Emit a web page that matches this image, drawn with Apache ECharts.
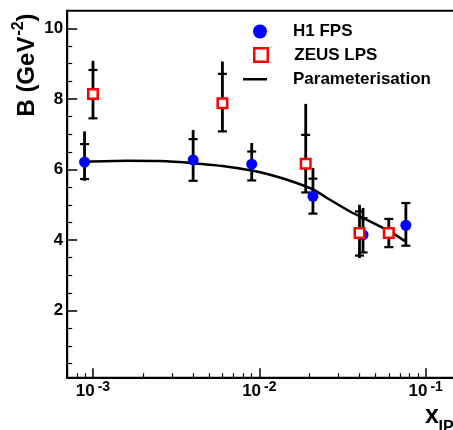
<!DOCTYPE html>
<html>
<head>
<meta charset="utf-8">
<script src="https://cdn.jsdelivr.net/npm/echarts@6/dist/echarts.min.js"></script>
<style>
  html, body { margin: 0; padding: 0; background: #fff; }
  #chart { width: 453px; height: 430px; }
</style>
</head>
<body>
<div id="chart"></div>
<script>
// ---- data ----
const h1X      = [0.00089, 0.0040, 0.0090, 0.021, 0.042, 0.076];
const h1B      = [6.21, 6.27, 6.15, 5.24, 4.15, 4.42];
const h1StatLo = [5.73, 5.68, 5.69, 4.75, 3.65, 3.84];
const h1StatHi = [6.72, 6.86, 6.51, 5.74, 4.62, 5.05];
const h1TotLo  = [5.68, 5.68, 5.69, 4.75, 3.63, 3.84];
const h1TotHi  = [7.08, 7.12, 6.75, 6.04, 4.91, 5.05];

const zeusX      = [0.0010, 0.0060, 0.019, 0.040, 0.060];
const zeusB      = [8.14, 7.88, 6.16, 4.20, 4.20];
const zeusStatLo = [7.45, 7.08, 5.35, 3.56, 3.80];
const zeusStatHi = [8.82, 8.71, 6.98, 4.81, 4.60];
const zeusTotLo  = [7.45, 7.08, 5.35, 3.49, 3.80];
const zeusTotHi  = [9.08, 9.06, 7.86, 5.00, 4.60];

const paramX = [0.00089, 0.0016, 0.0025, 0.004, 0.006, 0.009, 0.0116, 0.0153, 0.0211, 0.0254, 0.0351, 0.0463, 0.0611, 0.075];
const paramB = [6.22, 6.25, 6.24, 6.18, 6.10, 5.97, 5.85, 5.68, 5.43, 5.20, 4.81, 4.53, 4.24, 3.97];

const xMajorTicks = [0.001, 0.01, 0.1];
const xMinorTicks = [0.0008, 0.0009, 0.002, 0.003, 0.004, 0.005, 0.006, 0.007, 0.008, 0.009,
                     0.02, 0.03, 0.04, 0.05, 0.06, 0.07, 0.08, 0.09];
const yMajorTicks = [2, 4, 6, 8, 10];
const yMinorTicks = [0.5, 1, 1.5, 2.5, 3, 3.5, 4.5, 5, 5.5, 6.5, 7, 7.5, 8.5, 9, 9.5];

const xMin = 0.0007, xMax = 0.15, yMin = 0.1, yMax = 10.5;

// ---- build ----
const FONT = 'Liberation Sans, Arial, Helvetica, sans-serif';
function rows(x, b, sl, sh, tl, th) {
  return x.map((v, i) => [v, b[i], sl[i], sh[i], tl[i], th[i]]);
}
function errItem(params, api) {
  const x = api.value(0);
  const top = api.coord([x, api.value(5)]);
  const bot = api.coord([x, api.value(4)]);
  const sHi = api.coord([x, api.value(3)]);
  const sLo = api.coord([x, api.value(2)]);
  const hw = 4.5;
  return {
    type: 'group',
    children: [
      { type: 'line', shape: { x1: top[0], y1: top[1], x2: bot[0], y2: bot[1] }, style: { stroke: '#000', lineWidth: 2.8 } },
      { type: 'line', shape: { x1: sHi[0] - hw, y1: sHi[1], x2: sHi[0] + hw, y2: sHi[1] }, style: { stroke: '#000', lineWidth: 2.2 } },
      { type: 'line', shape: { x1: sLo[0] - hw, y1: sLo[1], x2: sLo[0] + hw, y2: sLo[1] }, style: { stroke: '#000', lineWidth: 2.2 } }
    ]
  };
}

const chart = echarts.init(document.getElementById('chart'), null, { renderer: 'canvas' });
const legendText = { color: '#000', fontSize: 17, fontWeight: 'bold', fontFamily: FONT };

const option = {
  animation: false,
  backgroundColor: '#fff',
  textStyle: { fontFamily: FONT },
  grid: {
    left: 67.2, top: 10.7, right: -2, bottom: 52.3,
    show: true, borderColor: '#000', borderWidth: 2,
    containLabel: false, outerBoundsMode: 'none'
  },
  legend: [
    { data: ['H1 FPS'], left: 253, top: 23, padding: 0, itemWidth: 14, itemHeight: 14,
      itemStyle: { opacity: 1 },
      textStyle: Object.assign({ padding: [0, 0, 0, 21] }, legendText) },
    { data: ['ZEUS LPS'], left: 253, top: 46.5, padding: 0, itemWidth: 13.5, itemHeight: 13.5,
      itemStyle: { borderWidth: 2.5, opacity: 1 },
      textStyle: Object.assign({ padding: [0, 0, 0, 21.5] }, legendText) },
    { data: [{ name: 'Parameterisation', icon: 'rect' }], left: 243, top: 70.75, padding: 0, itemWidth: 24, itemHeight: 2.5,
      itemStyle: { color: '#000', opacity: 1 },
      textStyle: Object.assign({ padding: [0, 0, 0, 21] }, legendText) }
  ],
  xAxis: [
    {
      type: 'log', logBase: 10, min: xMin, max: xMax, position: 'bottom',
      axisLine: { show: true, onZero: false, lineStyle: { color: '#000', width: 2 } },
      axisTick: { show: true, inside: true, length: 9.5, customValues: xMajorTicks, lineStyle: { color: '#000', width: 1.5 } },
      minorTick: { show: false },
      splitLine: { show: false },
      axisLabel: {
        show: true, margin: 2, customValues: xMajorTicks, color: '#000',
        formatter: v => '{b|10}{s|' + Math.round(Math.log10(v)) + '}',
        rich: {
          b: { fontSize: 17, fontWeight: 'bold', fontFamily: FONT, color: '#000', verticalAlign: 'bottom', lineHeight: 20 },
          s: { fontSize: 14, fontWeight: 'bold', fontFamily: FONT, color: '#000', verticalAlign: 'top', lineHeight: 14, padding: [0, 0, 15, 3] }
        }
      }
    },
    {
      type: 'log', logBase: 10, min: xMin, max: xMax, position: 'bottom', offset: 0,
      axisLine: { show: false, onZero: false },
      axisTick: { show: true, inside: true, length: 4.5, customValues: xMinorTicks, lineStyle: { color: '#000', width: 1.2 } },
      minorTick: { show: false },
      splitLine: { show: false },
      axisLabel: { show: false }
    }
  ],
  yAxis: [
    {
      type: 'value', min: yMin, max: yMax, position: 'left',
      axisLine: { show: true, onZero: false, lineStyle: { color: '#000', width: 2 } },
      axisTick: { show: true, inside: true, length: 10, customValues: yMajorTicks, lineStyle: { color: '#000', width: 1.5 } },
      minorTick: { show: false },
      splitLine: { show: false },
      axisLabel: { show: true, margin: 4, customValues: yMajorTicks, color: '#000', fontSize: 17, fontWeight: 'bold', fontFamily: FONT }
    },
    {
      type: 'value', min: yMin, max: yMax, position: 'left', offset: 0,
      axisLine: { show: false, onZero: false },
      axisTick: { show: true, inside: true, length: 5, customValues: yMinorTicks, lineStyle: { color: '#000', width: 1.2 } },
      minorTick: { show: false },
      splitLine: { show: false },
      axisLabel: { show: false }
    }
  ],
  graphic: [
    {
      type: 'text', x: 25, y: 65, rotation: Math.PI / 2,
      style: {
        text: '{m|B (GeV}{s|-2}{m|)}',
        align: 'center', verticalAlign: 'middle',
        rich: {
          m: { fontSize: 24, fontWeight: 'bold', fontFamily: FONT, fill: '#000', verticalAlign: 'bottom', lineHeight: 28 },
          s: { fontSize: 16, fontWeight: 'bold', fontFamily: FONT, fill: '#000', verticalAlign: 'top', lineHeight: 18, padding: [0, 0, 14, 1] }
        }
      }
    },
    { type: 'text', x: 425, y: 416.5, style: { text: 'x', fontSize: 25, fontWeight: 'bold', fontFamily: FONT, fill: '#000', align: 'left', verticalAlign: 'middle' } },
    { type: 'text', x: 438.5, y: 427.5, style: { text: 'IP', fontSize: 16, fontWeight: 'bold', fontFamily: FONT, fill: '#000', align: 'left', verticalAlign: 'middle' } }
  ],
  series: [
    {
      name: 'H1 FPS errors', type: 'custom', xAxisIndex: 0, yAxisIndex: 0, z: 2,
      renderItem: errItem, encode: { x: 0, y: 1 },
      data: rows(h1X, h1B, h1StatLo, h1StatHi, h1TotLo, h1TotHi), silent: true
    },
    {
      name: 'ZEUS LPS errors', type: 'custom', xAxisIndex: 0, yAxisIndex: 0, z: 2,
      renderItem: errItem, encode: { x: 0, y: 1 },
      data: rows(zeusX, zeusB, zeusStatLo, zeusStatHi, zeusTotLo, zeusTotHi), silent: true
    },
    {
      name: 'Parameterisation', type: 'line', xAxisIndex: 0, yAxisIndex: 0, z: 3,
      smooth: 0.3, symbol: 'none', showSymbol: false,
      lineStyle: { color: '#000', width: 2.5 }, itemStyle: { color: '#000' },
      data: paramX.map((v, i) => [v, paramB[i]])
    },
    {
      name: 'H1 FPS', type: 'scatter', xAxisIndex: 0, yAxisIndex: 0, z: 4,
      symbol: 'circle', symbolSize: 11,
      itemStyle: { color: '#0000ff', opacity: 1 },
      data: h1X.map((v, i) => [v, h1B[i]])
    },
    {
      name: 'ZEUS LPS', type: 'scatter', xAxisIndex: 0, yAxisIndex: 0, z: 4,
      symbol: 'rect', symbolSize: 9.5,
      itemStyle: { color: '#ffffff', borderColor: '#ff0000', borderWidth: 2.5, opacity: 1 },
      data: zeusX.map((v, i) => [v, zeusB[i]])
    }
  ]
};
chart.setOption(option);
</script>
</body>
</html>
